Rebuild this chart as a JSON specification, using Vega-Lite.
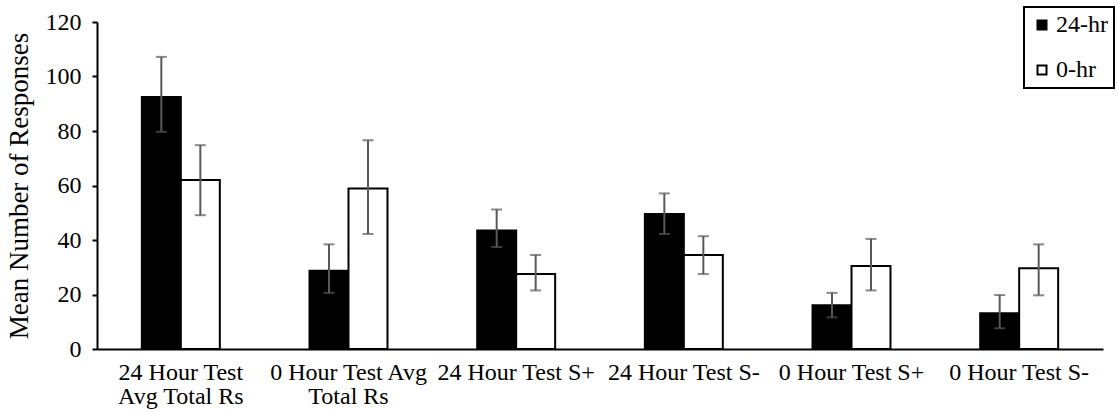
{
  "$schema": "https://vega.github.io/schema/vega-lite/v6.json",
  "width": 1006,
  "height": 327,
  "autosize": {"type": "none"},
  "padding": {"left": 97, "top": 22, "right": 15, "bottom": 63},
  "background": "white",
  "config": {
    "view": {"stroke": null},
    "font": "Liberation Serif, Times New Roman, serif",
    "axis": {
      "labelFont": "Liberation Serif, Times New Roman, serif",
      "titleFont": "Liberation Serif, Times New Roman, serif",
      "labelColor": "black",
      "titleColor": "black",
      "domainColor": "black",
      "domainWidth": 2,
      "tickColor": "black",
      "tickWidth": 2,
      "grid": false
    },
    "legend": {
      "labelFont": "Liberation Serif, Times New Roman, serif"
    }
  },
  "data": {
    "values": [
      {"test": "24 Hour Test Avg Total Rs", "group": "24-hr", "mean": 92.5, "lo": 79.7, "hi": 107.2},
      {"test": "24 Hour Test Avg Total Rs", "group": "0-hr", "mean": 62.0, "lo": 49.1, "hi": 74.8},
      {"test": "0 Hour Test Avg Total Rs", "group": "24-hr", "mean": 28.7, "lo": 20.6, "hi": 38.4},
      {"test": "0 Hour Test Avg Total Rs", "group": "0-hr", "mean": 58.9, "lo": 42.2, "hi": 76.6},
      {"test": "24 Hour Test S+", "group": "24-hr", "mean": 43.5, "lo": 37.4, "hi": 51.2},
      {"test": "24 Hour Test S+", "group": "0-hr", "mean": 27.5, "lo": 21.5, "hi": 34.5},
      {"test": "24 Hour Test S-", "group": "24-hr", "mean": 49.5, "lo": 42.2, "hi": 57.1},
      {"test": "24 Hour Test S-", "group": "0-hr", "mean": 34.5, "lo": 27.5, "hi": 41.4},
      {"test": "0 Hour Test S+", "group": "24-hr", "mean": 16.1, "lo": 11.6, "hi": 20.6},
      {"test": "0 Hour Test S+", "group": "0-hr", "mean": 30.5, "lo": 21.5, "hi": 40.4},
      {"test": "0 Hour Test S-", "group": "24-hr", "mean": 13.1, "lo": 7.6, "hi": 19.8},
      {"test": "0 Hour Test S-", "group": "0-hr", "mean": 29.6, "lo": 19.7, "hi": 38.4}
    ]
  },
  "encoding": {
    "x": {
      "field": "test",
      "type": "nominal",
      "sort": null,
      "scale": {"paddingInner": 0.535, "paddingOuter": 0.2675},
      "axis": {
        "title": null,
        "labelAngle": 0,
        "ticks": false,
        "tickSize": 0,
        "labelPadding": 11,
        "labelFontSize": 24,
        "labelLineHeight": 24,
        "labelLimit": 300,
        "labelExpr": "datum.label == '24 Hour Test Avg Total Rs' ? ['24 Hour Test', 'Avg Total Rs'] : datum.label == '0 Hour Test Avg Total Rs' ? ['0 Hour Test Avg', 'Total Rs'] : datum.label"
      }
    },
    "xOffset": {
      "field": "group",
      "type": "nominal",
      "scale": {"domain": ["24-hr", "0-hr"], "paddingInner": 0, "paddingOuter": 0}
    }
  },
  "layer": [
    {
      "mark": {"type": "bar", "stroke": "black", "strokeWidth": 2},
      "encoding": {
        "y": {
          "field": "mean",
          "type": "quantitative",
          "scale": {"domain": [0, 120], "nice": false},
          "axis": {
            "title": "Mean Number of Responses",
            "titleFontSize": 27,
            "titleFontWeight": "normal",
            "titlePadding": 12,
            "values": [0, 20, 40, 60, 80, 100, 120],
            "tickSize": 5,
            "labelPadding": 11,
            "labelFontSize": 24
          }
        },
        "fill": {
          "field": "group",
          "type": "nominal",
          "scale": {"domain": ["24-hr", "0-hr"], "range": ["black", "white"]},
          "legend": {
            "title": null,
            "orient": "none",
            "legendX": 927,
            "legendY": -15,
            "symbolType": "square",
            "symbolSize": 81,
            "symbolStrokeColor": "black",
            "symbolStrokeWidth": 2,
            "symbolOffset": 0,
            "labelFontSize": 24,
            "labelColor": "black",
            "labelOffset": 2,
            "rowPadding": 21,
            "padding": 6,
            "fillColor": "white",
            "strokeColor": "black",
            "encode": {"legend": {"update": {"strokeWidth": {"value": 2}}}}
          }
        }
      }
    },
    {
      "mark": {"type": "rule", "color": "#595959", "strokeWidth": 2},
      "encoding": {
        "y": {"field": "lo", "type": "quantitative"},
        "y2": {"field": "hi"}
      }
    },
    {
      "mark": {"type": "tick", "color": "#595959", "size": 11, "thickness": 2},
      "encoding": {
        "y": {"field": "lo", "type": "quantitative"}
      }
    },
    {
      "mark": {"type": "tick", "color": "#595959", "size": 11, "thickness": 2},
      "encoding": {
        "y": {"field": "hi", "type": "quantitative"}
      }
    }
  ]
}
